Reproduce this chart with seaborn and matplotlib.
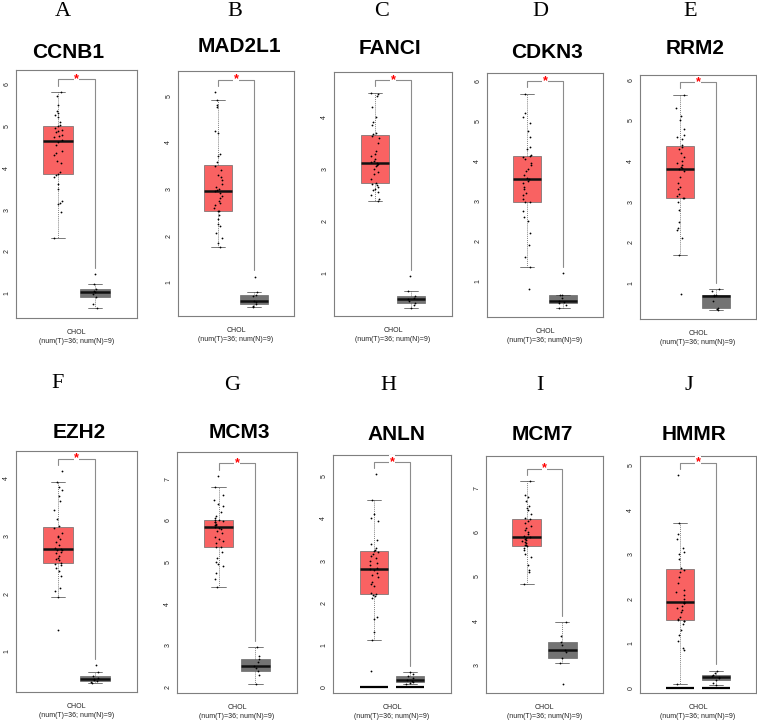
import numpy as np
import pandas as pd
import matplotlib
matplotlib.use("Agg")
import matplotlib.pyplot as plt
import seaborn as sns

# ─────────────────────────────────────────────
# DATA (log2(TPM+1))
# ─────────────────────────────────────────────
GENES   = ["CCNB1", "MAD2L1", "FANCI", "CDKN3", "RRM2",
           "EZH2", "MCM3", "ANLN", "MCM7", "HMMR"]
LETTERS = ["A", "B", "C", "D", "E", "F", "G", "H", "I", "J"]
CANCER  = "CHOL"

TUMOR_CCNB1  = [2.33, 2.95, 3.12, 3.15, 3.2, 3.5, 3.6, 3.78, 3.83, 3.85, 3.9, 4.1, 4.15, 4.3, 4.35, 4.4, 4.55, 4.62,
                4.66, 4.72, 4.75, 4.78, 4.85, 4.88, 4.9, 4.95, 4.99, 5.02, 5.1, 5.2, 5.25, 5.3, 5.35, 5.5, 5.7, 5.8]
NORMAL_CCNB1 = [0.66, 0.75, 0.91, 0.98, 1.02, 1.05, 1.11, 1.21, 1.45]

TUMOR_MAD2L1  = [1.75, 1.85, 1.95, 2.05, 2.2, 2.25, 2.35, 2.45, 2.52, 2.54, 2.6, 2.65, 2.7, 2.75, 2.8, 2.85, 2.92, 2.95,
                 2.97, 3.0, 3.05, 3.1, 3.2, 3.25, 3.3, 3.4, 3.5, 3.58, 3.7, 3.75, 4.2, 4.25, 4.75, 4.8, 4.91, 5.07]
NORMAL_MAD2L1 = [0.48, 0.50, 0.53, 0.57, 0.60, 0.70, 0.74, 0.80, 1.12]

TUMOR_FANCI  = [2.38, 2.42, 2.5, 2.55, 2.6, 2.62, 2.65, 2.7, 2.72, 2.74, 2.8, 2.9, 2.95, 3.0, 3.05, 3.08, 3.1, 3.11,
                3.13, 3.15, 3.2, 3.25, 3.3, 3.35, 3.5, 3.6, 3.64, 3.68, 3.7, 3.85, 3.9, 4.0, 4.2, 4.4, 4.45, 4.47]
NORMAL_FANCI = [0.33, 0.38, 0.42, 0.45, 0.49, 0.52, 0.56, 0.65, 0.94]

TUMOR_CDKN3  = [0.81, 1.34, 1.6, 1.9, 2.2, 2.5, 2.6, 2.75, 2.97, 2.99, 3.05, 3.15, 3.2, 3.3, 3.35, 3.45, 3.5, 3.55,
                3.57, 3.65, 3.75, 3.8, 3.9, 3.95, 4.05, 4.1, 4.12, 4.16, 4.3, 4.35, 4.6, 4.75, 4.95, 5.1, 5.2, 5.69]
NORMAL_CDKN3 = [0.32, 0.40, 0.45, 0.48, 0.50, 0.58, 0.64, 0.65, 1.20]

TUMOR_RRM2  = [0.72, 1.68, 2.1, 2.3, 2.35, 2.5, 2.8, 3.0, 3.08, 3.1, 3.15, 3.2, 3.3, 3.35, 3.45, 3.6, 3.75, 3.8,
               3.82, 3.85, 3.9, 3.95, 4.0, 4.1, 4.2, 4.3, 4.35, 4.39, 4.55, 4.6, 4.65, 4.8, 5.0, 5.1, 5.3, 5.63]
NORMAL_RRM2 = [0.33, 0.36, 0.39, 0.55, 0.68, 0.69, 0.70, 0.80, 0.85]

TUMOR_EZH2  = [1.37, 1.94, 2.05, 2.1, 2.3, 2.4, 2.45, 2.5, 2.52, 2.54, 2.58, 2.6, 2.62, 2.65, 2.7, 2.72, 2.75, 2.76,
               2.78, 2.8, 2.85, 2.9, 2.95, 2.98, 3.0, 3.05, 3.14, 3.18, 3.3, 3.45, 3.6, 3.7, 3.8, 3.85, 3.94, 4.12]
NORMAL_EZH2 = [0.46, 0.48, 0.49, 0.51, 0.53, 0.55, 0.57, 0.64, 0.76]

TUMOR_MCM3  = [4.41, 4.6, 4.75, 4.9, 4.95, 5.0, 5.1, 5.25, 5.35, 5.37, 5.45, 5.5, 5.55, 5.6, 5.7, 5.75, 5.8, 5.82,
               5.84, 5.88, 5.9, 5.92, 5.95, 5.97, 5.99, 6.0, 6.01, 6.05, 6.1, 6.2, 6.35, 6.4, 6.5, 6.6, 6.79, 7.07]
NORMAL_MCM3 = [2.08, 2.28, 2.38, 2.45, 2.50, 2.60, 2.68, 2.75, 2.96]

TUMOR_ANLN  = [0.37, 1.11, 1.3, 1.6, 1.65, 2.1, 2.15, 2.18, 2.2, 2.22, 2.4, 2.45, 2.5, 2.6, 2.65, 2.7, 2.78, 2.8,
               2.82, 2.9, 2.95, 3.0, 3.05, 3.1, 3.15, 3.2, 3.22, 3.26, 3.3, 3.4, 3.5, 3.95, 4.0, 4.1, 4.44, 5.05]
NORMAL_ANLN = [0.07, 0.09, 0.10, 0.13, 0.16, 0.20, 0.26, 0.30, 0.34]

TUMOR_MCM7  = [4.83, 5.1, 5.15, 5.25, 5.45, 5.5, 5.6, 5.65, 5.68, 5.7, 5.72, 5.75, 5.78, 5.8, 5.82, 5.85, 5.88, 5.89,
               5.91, 5.95, 6.0, 6.05, 6.1, 6.15, 6.2, 6.25, 6.29, 6.33, 6.4, 6.5, 6.55, 6.6, 6.7, 6.8, 6.85, 7.16]
NORMAL_MCM7 = [2.57, 3.04, 3.17, 3.30, 3.35, 3.45, 3.53, 3.65, 3.97]

TUMOR_HMMR  = [0.09, 0.85, 0.9, 1.05, 1.2, 1.3, 1.45, 1.5, 1.51, 1.53, 1.55, 1.6, 1.7, 1.75, 1.8, 1.85, 1.9, 1.92,
               1.94, 2.0, 2.1, 2.15, 2.2, 2.35, 2.5, 2.6, 2.66, 2.7, 2.9, 3.0, 3.05, 3.15, 3.35, 3.45, 3.7, 4.78]
NORMAL_HMMR = [0.07, 0.12, 0.19, 0.22, 0.25, 0.27, 0.30, 0.35, 0.39]

TUMORS  = [TUMOR_CCNB1, TUMOR_MAD2L1, TUMOR_FANCI, TUMOR_CDKN3, TUMOR_RRM2,
           TUMOR_EZH2, TUMOR_MCM3, TUMOR_ANLN, TUMOR_MCM7, TUMOR_HMMR]
NORMALS = [NORMAL_CCNB1, NORMAL_MAD2L1, NORMAL_FANCI, NORMAL_CDKN3, NORMAL_RRM2,
           NORMAL_EZH2, NORMAL_MCM3, NORMAL_ANLN, NORMAL_MCM7, NORMAL_HMMR]
# genes whose GEPIA panel also shows the flat zero-expression bars
ZERO_BARS = ["ANLN", "HMMR"]

# ─────────────────────────────────────────────
# LAYOUT (pixels of the 757x723 canvas)
# ─────────────────────────────────────────────
W, H = 757, 723
AX_PX = [  # left, right, top, bottom
    (16, 137, 70, 318), (178, 294, 71, 316), (334, 452, 72, 316), (487, 603, 73, 317), (640, 756, 75, 319),
    (16, 137, 451, 692), (177, 297, 452, 693), (333, 451, 455, 693), (486, 603, 456, 693), (640, 756, 456, 693),
]
YLIMS = [(0.41, 6.33), (0.28, 5.53), (0.17, 4.87), (0.10, 6.21), (0.11, 6.12),
         (0.30, 4.47), (1.86, 7.64), (-0.15, 5.51), (2.37, 7.72), (-0.11, 5.21)]
LETTER_PX = [(63, 11), (235, 11), (382, 11), (540, 11), (690, 11),
             (58, 384), (232, 385), (388, 386), (540, 386), (689, 386)]
TITLE_PX  = [(68, 53), (239, 47), (390, 48), (547, 52), (695, 48),
             (79, 433), (239, 433), (396, 434), (542, 434), (694, 434)]

ORDER        = ["Tumor", "Normal"]
TUMOR_COLOR  = "#F96262"
NORMAL_COLOR = "#737373"
FRAME_COLOR  = "#7F7F7F"


def fx(x):
    return x / W


def fy(y):
    return 1 - y / H


def draw_panel(ax, gene, tumor, normal, ylim):
    df = pd.DataFrame({
        "group": ["Tumor"] * len(tumor) + ["Normal"] * len(normal),
        "value": tumor + normal,
    })
    sns.boxplot(data=df, x="group", y="value", order=ORDER, hue="group", hue_order=ORDER,
                palette={"Tumor": TUMOR_COLOR, "Normal": NORMAL_COLOR}, saturation=1,
                width=0.8, showfliers=False, linewidth=0.5, linecolor="#6a6a6a",
                whiskerprops=dict(linestyle=(0, (1.5, 1.5)), color="#555555"),
                capprops=dict(color="#444444"),
                medianprops=dict(color="#111111", linewidth=1.8),
                legend=False, ax=ax)
    sns.stripplot(data=df, x="group", y="value", order=ORDER, color="black",
                  size=1.3, jitter=0.12, ax=ax, zorder=5)

    if gene in ZERO_BARS:
        for pos in range(len(ORDER)):
            ax.hlines(0, pos - 0.4, pos + 0.4, color="black", lw=1.6, zorder=4)

    # significance bracket
    vals = np.array(tumor + normal)
    rng  = vals.max() - vals.min()
    top  = vals.max() + 0.06 * rng
    gap  = 0.03 * rng
    ax.plot([0, 0, 1, 1], [max(tumor) + gap, top, top, max(normal) + gap],
            color="#8c8c8c", lw=0.8, zorder=3)
    ax.text(0.5, top, "*", color="red", ha="center", va="center", fontsize=9,
            fontweight="bold", zorder=6,
            bbox=dict(facecolor="white", edgecolor="none", pad=0.3))

    ax.set_xlim(-1.14, 2.14)
    ax.set_ylim(*ylim)
    ax.set_xticks([0.5])
    ax.set_xticklabels([f"{CANCER}\n(num(T)={len(tumor)}; num(N)={len(normal)})"],
                       fontsize=5, color="#222222", linespacing=1.45)
    yt = np.arange(np.ceil(ylim[0]), np.floor(ylim[1]) + 1).astype(int)
    ax.set_yticks(yt)
    ax.set_yticklabels([str(v) for v in yt], rotation=90, va="center",
                       fontsize=5, color="#222222")
    ax.tick_params(axis="x", length=3.6, width=0.6, color=FRAME_COLOR, pad=4)
    ax.tick_params(axis="y", length=2.6, width=0.6, color=FRAME_COLOR, pad=1.5)
    ax.set_xlabel("")
    ax.set_ylabel("")
    for sp in ax.spines.values():
        sp.set_visible(True)
        sp.set_color(FRAME_COLOR)
        sp.set_linewidth(0.8)


sns.set_style("white")
plt.rcParams["font.family"] = ["Liberation Sans", "DejaVu Sans"]
plt.rcParams["text.color"] = "black"
np.random.seed(7)  # only fixes the strip jitter

fig = plt.figure(figsize=(W / 100, H / 100), dpi=100)
fig.patch.set_facecolor("white")

for i, gene in enumerate(GENES):
    l, r, t, b = AX_PX[i]
    ax = fig.add_axes([fx(l), fy(b), (r - l) / W, (b - t) / H])
    draw_panel(ax, gene, TUMORS[i], NORMALS[i], YLIMS[i])

    lx, ly = LETTER_PX[i]
    fig.text(fx(lx), fy(ly), LETTERS[i], ha="center", va="center",
             fontsize=16, family="Liberation Serif", color="black")
    tx, ty = TITLE_PX[i]
    fig.text(fx(tx), fy(ty), gene, ha="center", va="center", color="black",
             fontsize=15, fontweight="bold", family=["Liberation Sans Narrow", "Liberation Sans"])

fig.savefig("out.png", dpi=100)
plt.close(fig)
